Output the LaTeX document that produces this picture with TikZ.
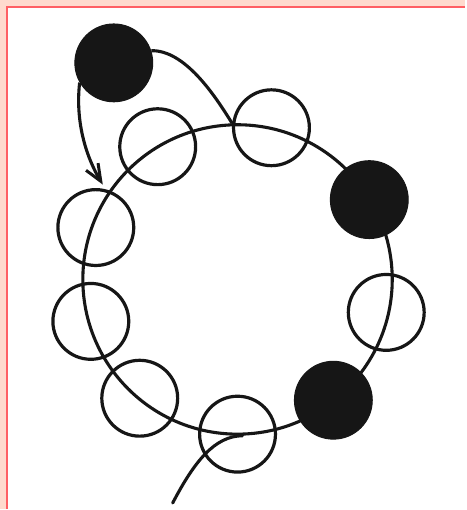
\documentclass[tikz,border=0pt]{standalone}
\usetikzlibrary{arrows.meta}
\definecolor{peach}{RGB}{255,218,206}
\definecolor{frameline}{RGB}{255,95,100}
\definecolor{ink}{RGB}{22,22,22}
\tikzset{
  ring/.style={circle, draw=ink, line width=3.2pt, minimum size=76pt, inner sep=0pt},
  bead/.style={circle, draw=ink, fill=ink, line width=1pt, minimum size=78pt, inner sep=0pt},
  loopline/.style={draw=ink, line width=3.1pt},
}
\begin{document}
\begin{tikzpicture}[x=1pt,y=-1pt]
  % background and frame
  \fill[peach] (0,0) rectangle (466,510);
  \fill[white] (6,6) rectangle (466,510);
  \draw[frameline, line width=2pt] (6.8,510) -- (6.8,6.8) -- (466,6.8);
  \useasboundingbox (0,0) rectangle (466,510);

  % big loop
  \node[circle, loopline, minimum size=310pt, inner sep=0pt] (loop) at (238,280) {};

  % open rings
  \node[ring] (r1) at (272,128) {};
  \node[ring] (r2) at (158,147) {};
  \node[ring] (r3) at (96,228) {};
  \node[ring] (r4) at (91,322) {};
  \node[ring] (r5) at (140,399) {};
  \node[ring] (r6) at (238,435) {};
  \node[ring] (r7) at (387,313) {};

  % filled beads
  \node[bead] (b1) at (114,63) {};
  \node[bead] (b2) at (370,200) {};
  \node[bead] (b3) at (334,401) {};

  % tail into loop
  \coordinate (tail) at (173,504);
  \draw[loopline, line cap=round] (tail) .. controls (195,462) and (215,437) .. ([xshift=5pt]loop.south);

  % curve from top bead into loop
  \draw[loopline] (b1.18) .. controls (185,50) and (215,95) .. (loop.92);

  % arrow
  \coordinate (tip) at (103,185);
  \draw[loopline, -{Straight Barb[length=17pt,width=14pt,line width=3pt]}] (b1.210) .. controls (75,125) and (88,160) .. (tip);
\end{tikzpicture}
\end{document}
